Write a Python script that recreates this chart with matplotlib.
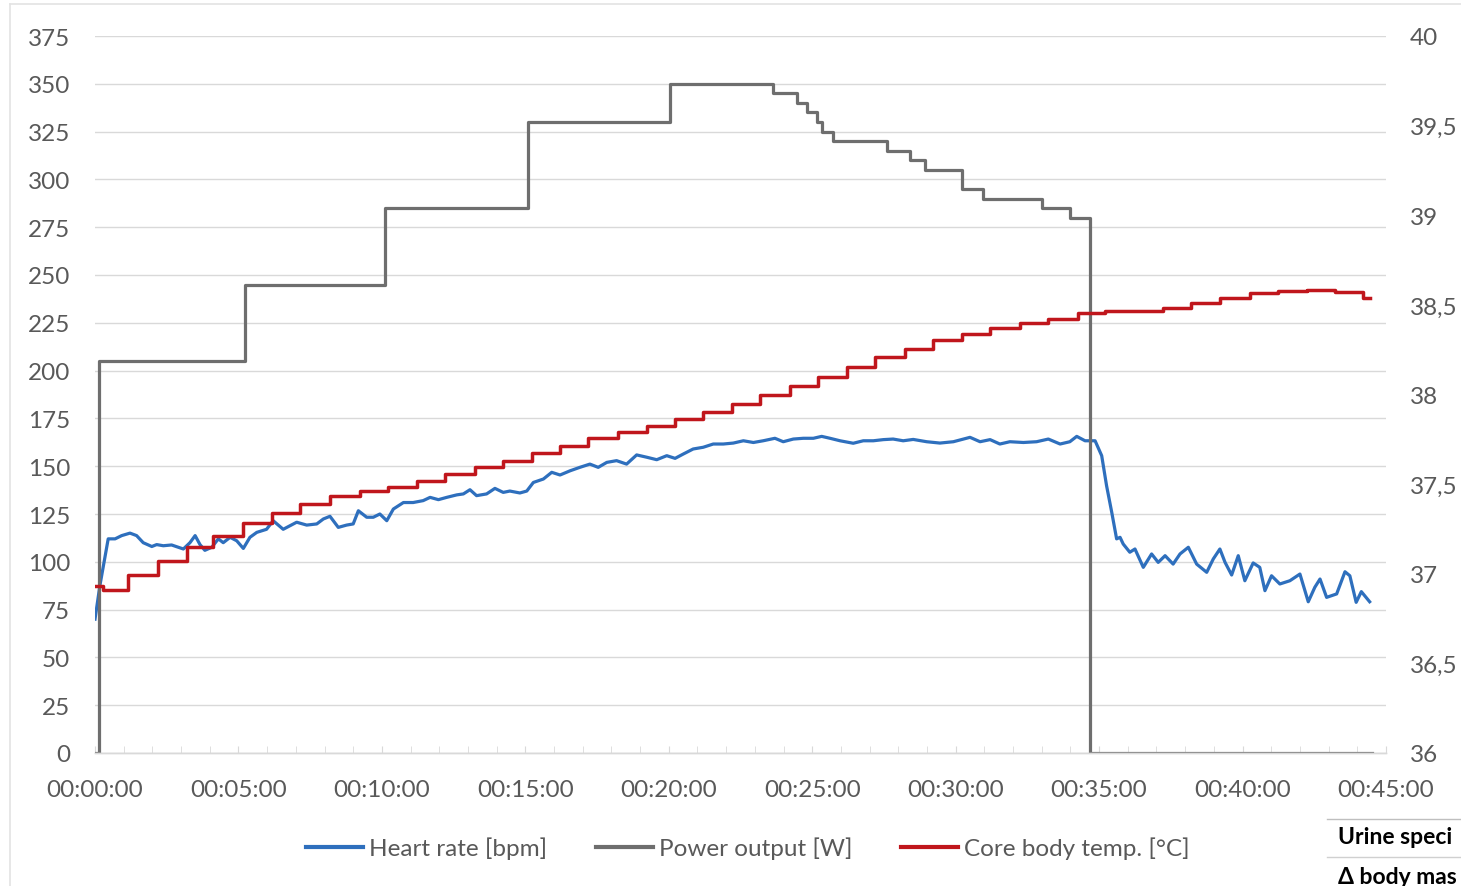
import matplotlib
matplotlib.use('Agg')
from matplotlib import pyplot as plt
from matplotlib.ticker import MultipleLocator, FuncFormatter
from matplotlib.lines import Line2D

plt.rcParams['font.family'] = ['Lato', 'DejaVu Sans']

# heart rate [bpm], time in minutes
hr_time = [0.00, 0.17, 0.46, 0.70, 0.93, 1.22, 1.45, 1.68, 1.98, 2.15, 2.38, 2.67,
           2.90, 3.08, 3.31, 3.49, 3.66, 3.83, 4.07, 4.30, 4.47, 4.71, 4.94, 5.17,
           5.40, 5.64, 5.98, 6.21, 6.56, 6.80, 7.03, 7.38, 7.73, 7.96, 8.19, 8.48,
           8.77, 9.00, 9.18, 9.47, 9.70, 9.93, 10.17, 10.40, 10.75, 11.09, 11.44, 11.68,
           11.97, 12.26, 12.61, 12.84, 13.07, 13.30, 13.65, 13.94, 14.23, 14.46, 14.81, 15.05,
           15.28, 15.63, 15.92, 16.21, 16.56, 16.90, 17.25, 17.54, 17.84, 18.18, 18.53, 18.88,
           19.23, 19.58, 19.93, 20.22, 20.51, 20.85, 21.20, 21.55, 21.90, 22.25, 22.60, 22.95,
           23.29, 23.70, 23.99, 24.34, 24.69, 25.04, 25.33, 25.62, 25.97, 26.43, 26.78, 27.13,
           27.48, 27.82, 28.17, 28.52, 28.99, 29.45, 29.92, 30.50, 30.85, 31.20, 31.54, 31.89,
           32.36, 32.82, 33.23, 33.64, 33.98, 34.22, 34.51, 34.86, 35.09, 35.26, 35.44, 35.61,
           35.73, 35.84, 36.07, 36.25, 36.54, 36.83, 37.06, 37.30, 37.58, 37.82, 38.11, 38.40,
           38.75, 38.98, 39.21, 39.39, 39.62, 39.85, 40.08, 40.37, 40.60, 40.78, 41.01, 41.30,
           41.65, 42.00, 42.29, 42.52, 42.70, 42.93, 43.28, 43.57, 43.74, 43.96, 44.14, 44.43]
hr_bpm = [70.0, 87.5, 112.0, 112.0, 113.7, 115.0, 113.7, 110.0, 108.0, 109.0, 108.4, 108.8,
          107.6, 106.7, 110.0, 113.7, 109.0, 106.0, 107.6, 112.0, 110.0, 112.8, 111.0, 107.0,
          112.8, 115.4, 117.0, 121.5, 117.0, 118.9, 120.7, 119.2, 119.8, 122.4, 123.8, 118.0,
          119.2, 119.8, 126.7, 123.3, 123.3, 125.0, 121.5, 127.6, 131.0, 131.0, 132.0, 133.7,
          132.5, 133.7, 135.0, 135.5, 137.7, 134.6, 135.5, 138.4, 136.3, 137.0, 136.0, 137.0,
          141.5, 143.3, 146.8, 145.4, 147.6, 149.4, 151.1, 149.4, 152.0, 152.9, 151.1, 155.9,
          154.7, 153.4, 155.5, 154.1, 156.4, 159.0, 159.9, 161.6, 161.6, 162.1, 163.3, 162.4,
          163.3, 164.6, 162.8, 164.2, 164.6, 164.6, 165.6, 164.6, 163.3, 162.0, 163.3, 163.3,
          163.9, 164.2, 163.3, 164.0, 162.8, 162.1, 162.8, 165.1, 162.8, 163.9, 161.6, 162.8,
          162.4, 162.8, 164.2, 161.6, 162.8, 165.6, 163.3, 163.3, 155.5, 139.8, 125.9, 112.0,
          112.8, 109.3, 105.0, 106.7, 97.1, 104.1, 99.7, 103.2, 98.8, 104.1, 107.6, 98.8,
          94.5, 101.5, 106.7, 99.7, 93.1, 103.2, 90.1, 99.4, 97.1, 84.9, 92.7, 88.4,
          90.1, 93.6, 79.1, 86.7, 91.0, 81.4, 83.2, 94.8, 92.7, 78.8, 84.4, 79.1]

# power output [W], value holds from each time until the next
pw_time = [0.00, 0.15, 5.23, 10.10, 15.09, 20.04, 23.63, 24.47, 24.82, 25.17, 25.34,
           25.72, 27.61, 28.41, 28.93, 30.22, 30.95, 33.01, 33.98, 34.68, 44.51]
pw_watt = [0, 205, 245, 285, 330, 350, 345, 340, 335, 330, 325,
           320, 315, 310, 305, 295, 290, 285, 280, 0, 0]

# core body temperature [°C], value holds from each time until the next
tc_time = [0.00, 0.28, 1.16, 2.21, 3.20, 4.12, 5.17, 6.16, 7.15, 8.19, 9.24, 10.22,
           11.21, 12.20, 13.25, 14.23, 15.22, 16.21, 17.19, 18.24, 19.23, 20.22, 21.20,
           22.19, 23.18, 24.22, 25.21, 26.20, 27.19, 28.23, 29.22, 30.21, 31.20, 32.24,
           33.23, 34.27, 35.20, 37.24, 38.22, 39.21, 40.26, 41.24, 42.23, 43.22, 44.21, 44.44]
tc_deg = [36.933, 36.911, 36.993, 37.073, 37.148, 37.212, 37.281, 37.339, 37.389, 37.432,
          37.463, 37.486, 37.516, 37.556, 37.594, 37.631, 37.672, 37.711, 37.756, 37.793,
          37.826, 37.863, 37.904, 37.947, 37.997, 38.046, 38.096, 38.152, 38.208, 38.256,
          38.304, 38.338, 38.369, 38.399, 38.421, 38.453, 38.464, 38.481, 38.510, 38.538,
          38.564, 38.579, 38.584, 38.570, 38.537, 38.537]

c_hr = '#2e6fbd'
c_pw = '#6e6e6e'
c_tc = '#c0161c'
c_txt = '#595959'
c_grid = '#d9d9d9'
fs = 17.5

W, H = 1461, 887
fig = plt.figure(figsize=(W / 100, H / 100), dpi=100)
ax = fig.add_axes([95 / W, 133 / H, 1291 / W, 717 / H])
ax2 = ax.twinx()

ax.plot(hr_time, hr_bpm, color=c_hr, lw=2.3, solid_joinstyle='round')
ax.step(pw_time, pw_watt, where='post', color=c_pw, lw=2.3)
ax2.step(tc_time, tc_deg, where='post', color=c_tc, lw=2.5)

ax.set_xlim(0, 45)
ax.set_ylim(0, 375)
ax2.set_ylim(36, 40)

ax.xaxis.set_major_locator(MultipleLocator(5))
ax.xaxis.set_minor_locator(MultipleLocator(1))
ax.xaxis.set_major_formatter(FuncFormatter(lambda v, p: '00:%02d:00' % int(round(v))))
ax.yaxis.set_major_locator(MultipleLocator(25))
ax2.yaxis.set_major_locator(MultipleLocator(0.5))
ax2.yaxis.set_major_formatter(FuncFormatter(lambda v, p: ('%g' % v).replace('.', ',')))

ax.grid(axis='y', color=c_grid, lw=1.0)
ax.set_axisbelow(True)
for a in (ax, ax2):
    for s in ('top', 'left', 'right'):
        a.spines[s].set_visible(False)
    a.spines['bottom'].set_color(c_grid)
    a.spines['bottom'].set_linewidth(1.0)

ax.tick_params(axis='x', which='both', direction='in', length=5, color=c_grid,
               labelsize=fs, labelcolor=c_txt, pad=19)
ax.tick_params(axis='y', length=0, labelsize=fs, labelcolor=c_txt, pad=18)
ax2.tick_params(axis='y', length=0, labelsize=fs, labelcolor=c_txt, pad=17)

handles = [Line2D([], [], color=c_hr, lw=3),
           Line2D([], [], color=c_pw, lw=3),
           Line2D([], [], color=c_tc, lw=3)]
labels = ['Heart rate [bpm]', 'Power output [W]', 'Core body temp. [°C]']
leg = fig.legend(handles, labels, loc='center', bbox_to_anchor=(0.512, 0.043), ncol=3,
                 frameon=False, fontsize=fs, handlelength=2.35, handletextpad=0.25,
                 columnspacing=2.0)
for t in leg.get_texts():
    t.set_color(c_txt)

# chart frame
fig.add_artist(Line2D([10 / W, 10 / W], [0, 1 - 5 / H], transform=fig.transFigure,
                      color='#e3e3e3', lw=1.2))
fig.add_artist(Line2D([10 / W, 1], [1 - 5 / H, 1 - 5 / H], transform=fig.transFigure,
                      color='#e3e3e3', lw=1.2))

# neighbouring table on the page, running off the right edge
fig.add_artist(Line2D([1327 / W, 1], [1 - 820 / H, 1 - 820 / H], transform=fig.transFigure,
                      color='#bfbfbf', lw=1.0))
fig.add_artist(Line2D([1327 / W, 1], [1 - 858 / H, 1 - 858 / H], transform=fig.transFigure,
                      color='#d0d0d0', lw=1.0))
fig.text(1338 / W, 1 - 838 / H, 'Urine speci', fontsize=16.5, fontweight='bold',
         va='center', ha='left', color='black')
fig.text(1338 / W, 1 - 878 / H, 'Δ body mas', fontsize=16.5, fontweight='bold',
         va='center', ha='left', color='black', family=['Lato', 'DejaVu Sans'])

fig.savefig('out.png', dpi=100)
